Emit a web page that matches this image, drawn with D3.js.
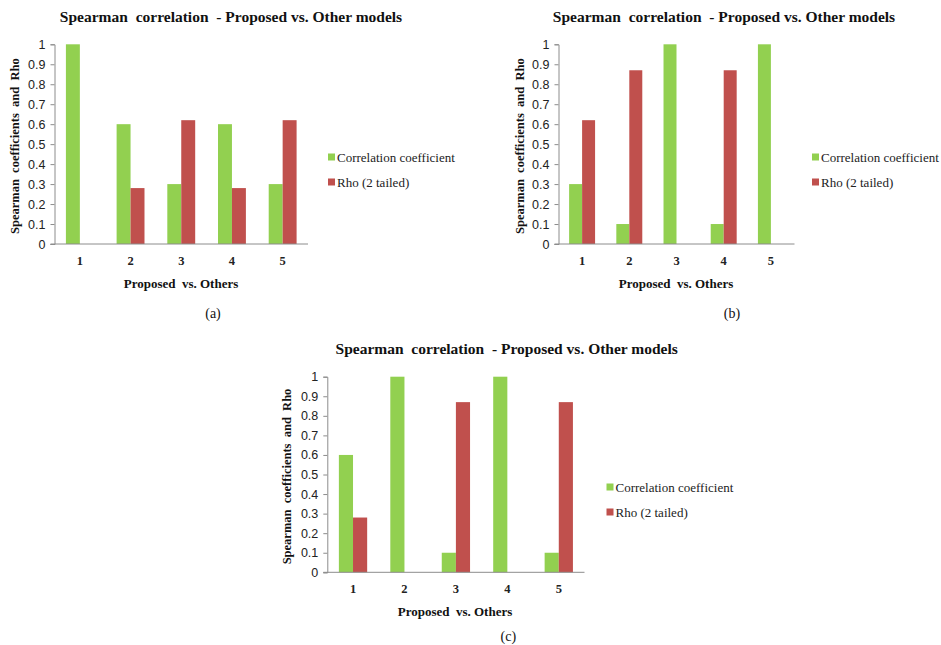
<!DOCTYPE html>
<html>
<head>
<meta charset="utf-8">
<script src="https://cdn.jsdelivr.net/npm/d3@7"></script>
<style>
  html, body { margin: 0; padding: 0; background: #fff; }
  svg { display: block; }
  text { white-space: pre; }
</style>
</head>
<body>
<svg id="chart" width="941" height="645"></svg>
<script>
// ---- data ----
const categories = ["1", "2", "3", "4", "5"];
const seriesNames = ["Correlation coefficient", "Rho (2 tailed)"];
const corrA = [1, 0.6, 0.3, 0.6, 0.3];
const rhoA  = [0, 0.28, 0.62, 0.28, 0.62];
const corrB = [0.3, 0.1, 1, 0.1, 1];
const rhoB  = [0.62, 0.87, 0, 0.87, 0];
const corrC = [0.6, 1, 0.1, 1, 0.1];
const rhoC  = [0.28, 0, 0.87, 0, 0.87];
const yTicks = [0, 0.1, 0.2, 0.3, 0.4, 0.5, 0.6, 0.7, 0.8, 0.9, 1];
const panelLabels = ["(a)", "(b)", "(c)"];
const titleText = "Spearman  correlation  - Proposed vs. Other models";
const yTitle = "Spearman  coefficients  and  Rho";
const xTitle = "Proposed  vs. Others";

const colors = ["#92D050", "#C0504D"];
const svg = d3.select("#chart");
const serif = "'Liberation Serif', 'Times New Roman', serif";

const layouts = [
  { left: 54.5, right: 308, top: 44.3, bottom: 244, titleX: 231, titleY: 22, yTitleX: 19, legX: 328, legY: 157, legGap: 25, xTitleX: 181, xTitleY: 288, capX: 213, capY: 318 },
  { left: 558.5, right: 794.5, top: 44.3, bottom: 244, titleX: 724, titleY: 22, yTitleX: 524, legX: 812, legY: 157, legGap: 25, xTitleX: 676, xTitleY: 288, capX: 732, capY: 318 },
  { left: 327.3, right: 584.5, top: 376.7, bottom: 572.3, titleX: 506.7, titleY: 354, yTitleX: 291, legX: 606.5, legY: 487, legGap: 25, xTitleX: 455, xTitleY: 616, capX: 508.3, capY: 641 }
];
const datasets = [[corrA, rhoA], [corrB, rhoB], [corrC, rhoC]];

layouts.forEach((L, i) => {
  const [corr, rho] = datasets[i];
  const g = svg.append("g");

  const x = d3.scaleBand().domain(categories).range([L.left, L.right]).paddingInner(0.45).paddingOuter(0.225);
  const xs = d3.scaleBand().domain(seriesNames).range([0, x.bandwidth()]);
  const y = d3.scaleLinear().domain([0, 1]).range([L.bottom, L.top]);

  // bars
  const rows = categories.map((c, k) => ({ c, vals: [corr[k], rho[k]] }));
  const grp = g.selectAll("g.cat").data(rows).join("g")
    .attr("transform", d => `translate(${x(d.c)},0)`);
  grp.selectAll("rect").data(d => d.vals.map((v, s) => ({ v, s })).filter(o => o.v > 0)).join("rect")
    .attr("x", d => xs(seriesNames[d.s]))
    .attr("width", xs.bandwidth())
    .attr("y", d => y(d.v))
    .attr("height", d => y(0) - y(d.v))
    .attr("fill", d => colors[d.s]);

  // y axis
  const ya = g.append("g").attr("transform", `translate(${L.left},0)`)
    .call(d3.axisLeft(y).tickValues(yTicks).tickFormat(d3.format("~g")).tickSize(4).tickPadding(5));
  ya.select(".domain").attr("stroke", "#8c8c8c");
  ya.selectAll(".tick line").attr("stroke", "#8c8c8c");
  ya.selectAll(".tick text").attr("font-family", "'Liberation Sans', Arial, sans-serif").attr("font-size", 12.5).attr("fill", "#222");

  // x axis
  const xa = g.append("g").attr("transform", `translate(0,${L.bottom})`)
    .call(d3.axisBottom(x).tickSize(0).tickPadding(12));
  xa.select(".domain").attr("stroke", "#8c8c8c").attr("d", `M${L.left - 4},0H${L.right}`);
  xa.selectAll(".tick text").attr("font-family", serif).attr("font-weight", "bold").attr("font-size", 12.5).attr("fill", "#222");

  // title
  g.append("text").attr("x", L.titleX).attr("y", L.titleY).attr("text-anchor", "middle")
    .attr("font-family", serif).attr("font-weight", "bold")
    .attr("font-size", 15.5).attr("fill", "#111").text(titleText);

  // y title
  const yc = (L.top + L.bottom) / 2 + 2;
  g.append("text").attr("transform", `translate(${L.yTitleX},${yc}) rotate(-90)`).attr("text-anchor", "middle")
    .attr("font-family", serif).attr("font-weight", "bold")
    .attr("font-size", 12.5).attr("fill", "#111").text(yTitle);

  // x title
  g.append("text").attr("x", L.xTitleX).attr("y", L.xTitleY).attr("text-anchor", "middle")
    .attr("font-family", serif).attr("font-weight", "bold")
    .attr("font-size", 13).attr("fill", "#111").text(xTitle);

  // caption
  g.append("text").attr("x", L.capX).attr("y", L.capY).attr("text-anchor", "middle")
    .attr("font-family", serif)
    .attr("font-size", 14).attr("fill", "#111").text(panelLabels[i]);

  // legend
  const leg = g.append("g");
  seriesNames.forEach((name, s) => {
    const ly = L.legY + s * L.legGap;
    leg.append("rect").attr("x", L.legX).attr("y", ly - 3.5).attr("width", 7).attr("height", 7).attr("fill", colors[s]);
    leg.append("text").attr("x", L.legX + 9).attr("y", ly + 4.5)
      .attr("font-family", serif)
      .attr("font-size", 13).attr("fill", "#222").text(name);
  });
});
</script>
</body>
</html>
